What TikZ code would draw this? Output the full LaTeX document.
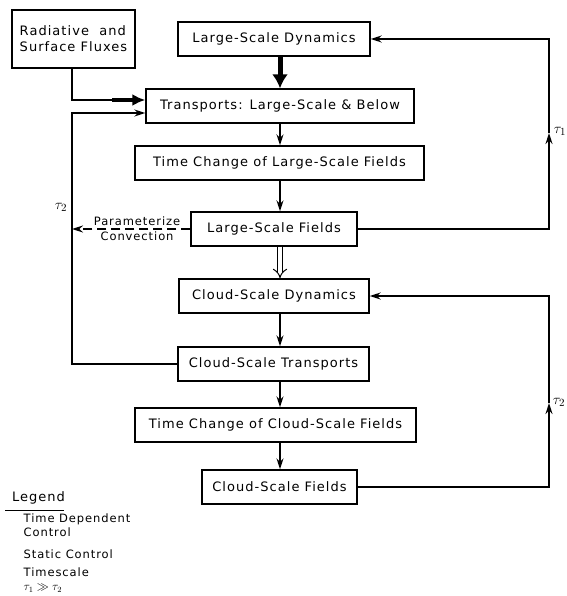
\documentclass[tikz,border=0pt]{standalone}
\usepackage{fontspec}
\usepackage{tikz}
\usetikzlibrary{arrows.meta}
\newfontfamily\lettering[LetterSpace=8]{DejaVu Sans}

\begin{document}
\begin{tikzpicture}[x=1pt,y=-1pt,line width=1.4pt,
  every node/.style={font=\lettering\fontsize{13}{16}\selectfont},
  box/.style={draw, rectangle, minimum height=34pt, inner sep=2pt},
  flow/.style={-{Stealth[length=11pt,width=7pt]}},
  bigflow/.style={line width=5pt,-{Latex[length=14pt,width=16pt]}},
  lbl/.style={font=\lettering\fontsize{11.5}{14}\selectfont},
  tau/.style={font=\fontsize{15}{15}\selectfont}]
  \useasboundingbox (0,0) rectangle (566,596);
  \coordinate (axis) at (280,0);
  \coordinate (left) at (72,0);
  \coordinate (right) at (549,0);
  \node[box, minimum width=123pt, minimum height=58pt, align=left] (rad) at (73.5,39) {Radiative\ \ and\\Surface Fluxes};
  \node[box, minimum width=192pt] (lsd) at (274,39) {Large-Scale Dynamics};
  \node[box, minimum width=268pt] (trans) at (280,106) {Transports: Large-Scale \& Below};
  \node[box, minimum width=289pt] (tclsf) at (279.5,163) {Time Change of Large-Scale Fields};
  \node[box, minimum width=166pt] (lsf) at (274,229) {Large-Scale Fields};
  \node[box, minimum width=190pt] (csd) at (274,296) {Cloud-Scale Dynamics};
  \node[box, minimum width=191pt] (cst) at (273.5,364) {Cloud-Scale Transports};
  \node[box, minimum width=281pt] (tccsf) at (275.5,425) {Time Change of Cloud-Scale Fields};
  \node[box, minimum width=155pt] (csf) at (279.5,487) {Cloud-Scale Fields};
  % down the middle
  \draw[bigflow] (lsd.south -| axis) -- (trans.north -| axis);
  \draw[flow] (trans.south -| axis) -- (tclsf.north -| axis);
  \draw[flow] (tclsf.south -| axis) -- (lsf.north -| axis);
  \draw[line width=1pt, double, double distance=4pt, -{Implies[length=8pt]}] (lsf.south -| axis) -- (csd.north -| axis);
  \draw[flow] (csd.south -| axis) -- (cst.north -| axis);
  \draw[flow] (cst.south -| axis) -- (tccsf.north -| axis);
  \draw[flow] (tccsf.south -| axis) -- (csf.north -| axis);
  % feedback loops
  \coordinate (up1) at (549,133);
  \coordinate (up2) at (549,403);
  \draw[flow] (lsf.east) -| (up1);
  \draw[flow] (up1) |- (lsd.east);
  \draw[flow] (csf.east) -| (up2);
  \draw[flow] (up2) |- (csd.east);
  \draw[flow] (cst.west) -| ([yshift=-7pt]trans.west -| left) -- ([yshift=-7pt]trans.west);
  \coordinate (thick) at (112,100);
  \draw (rad.south -| left) |- (thick);
  \draw[line width=3.5pt,-{Latex[length=13pt,width=12pt]}] (thick) -- ([yshift=6pt]trans.west);
  \draw[dashed, dash pattern=on 9pt off 5pt, flow] (lsf.west) -- (lsf.west -| left)
    node[lbl, pos=0.45, above=-1pt] {Parameterize}
    node[lbl, pos=0.45, below=-1pt] {Convection};
  \node[tau] (t1) at (560,131) {$\tau_1$};
  \node[tau] (t2a) at (61,207) {$\tau_2$};
  \node[tau] (t2b) at (559,402) {$\tau_2$};
  % legend
  \node[anchor=west] (leg) at (8,498) {Legend};
  \draw[line width=1pt] (5,510) -- (64,510);
  \node[anchor=north west, lbl, align=left, inner sep=0pt] (lega) at (23,513) {Time Dependent\\Control};
  \node[anchor=north west, lbl, inner sep=0pt] (legb) at (23,549) {Static Control};
  \node[anchor=north west, lbl, align=left, inner sep=0pt, text depth=0pt] (legc) at (23,567) {Timescale\\$\tau_1 \gg \tau_2$};
\end{tikzpicture}
\end{document}
